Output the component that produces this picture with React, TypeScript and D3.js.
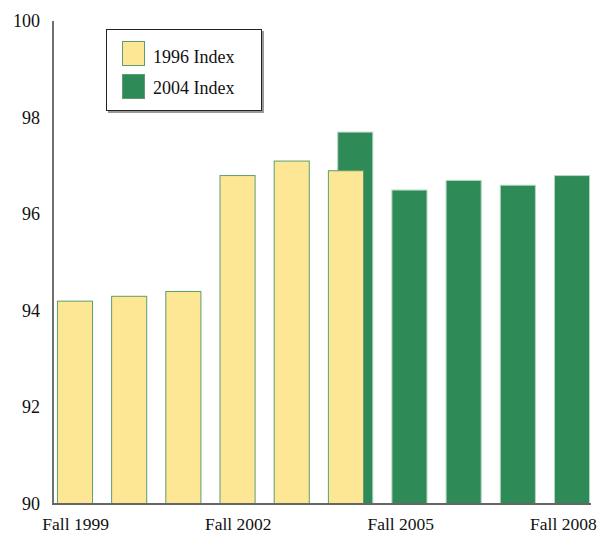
import { useEffect, useRef } from 'react'
import * as d3 from 'd3'

const years = ['1999', '2000', '2001', '2002', '2003', '2004', '2005', '2006', '2007', '2008']
const index1996 = [94.2, 94.3, 94.4, 96.8, 97.1, 96.9, null, null, null, null]
const index2004 = [null, null, null, null, null, 97.7, 96.5, 96.7, 96.6, 96.8]
const yTicks = [90, 92, 94, 96, 98, 100]
const xLabelYears = ['1999', '2002', '2005', '2008']
const seriesNames = ['1996 Index', '2004 Index']

const YELLOW = '#fde794'
const GREEN = '#2e8b57'
const FONT = '"Liberation Serif", "Times New Roman", serif'

export default function App() {
  const svgRef = useRef<SVGSVGElement>(null)

  useEffect(() => {
    document.body.style.margin = '0'
    document.body.style.overflow = 'hidden'
    const W = 598, H = 535
    const svg = d3.select(svgRef.current).attr('width', W).attr('height', H)
    svg.selectAll('*').remove()

    const x = d3.scaleBand().domain(years).range([52, 595]).paddingInner(0.18).paddingOuter(0.1)
    const y = d3.scaleLinear().domain([90, 100]).range([504, 21])
    const barW = x.bandwidth() * 0.79
    const shift = x.bandwidth() - barW

    const g = svg.append('g').style('font-family', FONT)

    // green first so yellow sits on top where they overlap
    g.selectAll('rect.g04')
      .data(years.map((yr, i) => ({ yr, v: index2004[i] })).filter(d => d.v != null))
      .join('rect')
      .attr('x', d => x(d.yr)! + shift)
      .attr('y', d => y(d.v!))
      .attr('width', barW)
      .attr('height', d => y(90) - y(d.v!))
      .attr('fill', GREEN)
      .attr('stroke', '#b5d8bf')
      .attr('stroke-width', 1)

    g.selectAll('rect.g96')
      .data(years.map((yr, i) => ({ yr, v: index1996[i] })).filter(d => d.v != null))
      .join('rect')
      .attr('x', d => x(d.yr)!)
      .attr('y', d => y(d.v!))
      .attr('width', barW)
      .attr('height', d => y(90) - y(d.v!))
      .attr('fill', YELLOW)
      .attr('stroke', '#5e9e6e')
      .attr('stroke-width', 1)

    // axes
    g.append('line').attr('x1', 53).attr('x2', 53).attr('y1', 21).attr('y2', 504)
      .attr('stroke', '#111').attr('stroke-width', 1.2)
    g.append('line').attr('x1', 52).attr('x2', 591).attr('y1', 504).attr('y2', 504)
      .attr('stroke', '#666').attr('stroke-width', 2)

    g.selectAll('text.yt').data(yTicks).join('text')
      .attr('x', 40).attr('y', d => y(d) + 6)
      .attr('text-anchor', 'end').attr('font-size', 18).attr('fill', '#111')
      .text(d => d)

    g.selectAll('text.xt').data(xLabelYears).join('text')
      .attr('x', d => x(d)! + x.bandwidth() / 2 - 4)
      .attr('y', 530)
      .attr('text-anchor', 'middle').attr('font-size', 17.5).attr('fill', '#111')
      .text(d => `Fall ${d}`)

    // legend
    const lg = g.append('g')
    lg.append('rect').attr('x', 108).attr('y', 31).attr('width', 156).attr('height', 82).attr('fill', '#999')
    lg.append('rect').attr('x', 106.5).attr('y', 29.5).attr('width', 155).attr('height', 81)
      .attr('fill', '#fff').attr('stroke', '#222').attr('stroke-width', 1)
    const colors = [YELLOW, GREEN]
    seriesNames.forEach((name, i) => {
      lg.append('rect').attr('x', 122.5).attr('y', 41.5 + i * 33).attr('width', 22).attr('height', 24)
        .attr('fill', colors[i]).attr('stroke', '#5e9e6e').attr('stroke-width', 1)
      lg.append('text').attr('x', 153).attr('y', 62.5 + i * 31.5)
        .attr('font-size', 18).attr('fill', '#111').text(name)
    })
  }, [])

  return (
    <svg ref={svgRef} style={{ display: 'block', position: 'absolute', left: 0, top: 0 }} />
  )
}
